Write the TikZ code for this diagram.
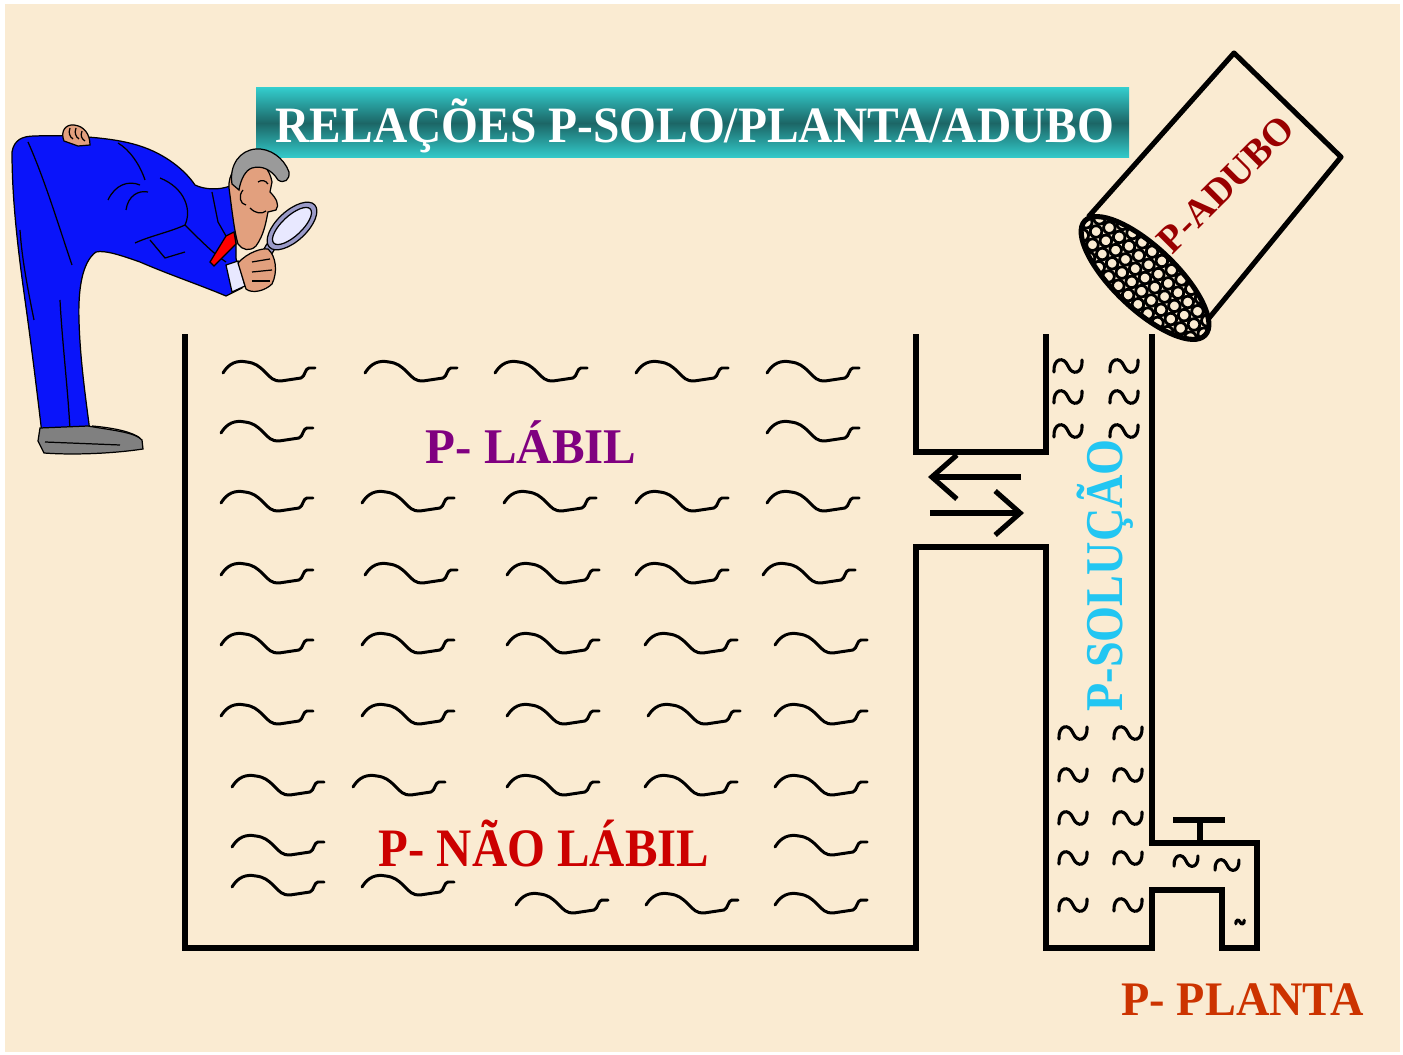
\documentclass[tikz,border=0pt]{standalone}
\usepackage{fontspec}
\setmainfont{Liberation Serif}
\usepackage{graphicx}
\usetikzlibrary{arrows.meta}

\definecolor{paper}{HTML}{FAEBD2}
\definecolor{tealL}{HTML}{33CCCC}
\definecolor{tealD}{HTML}{1C6666}
\definecolor{labilc}{HTML}{800080}
\definecolor{naoc}{HTML}{CC0000}
\definecolor{plantac}{HTML}{CC3300}
\definecolor{solc}{HTML}{22C6F2}
\definecolor{adubc}{HTML}{990000}
\definecolor{suit}{HTML}{0A14FA}
\definecolor{shoe}{HTML}{808080}
\definecolor{skin}{HTML}{E2A07E}
\definecolor{hair}{HTML}{9A9A9A}
\definecolor{lensrim}{HTML}{9A9AC8}
\definecolor{lensglass}{HTML}{E8E8FF}

\tikzset{
  wall/.style={line width=1.45pt, line join=miter, line cap=rect},
  squigline/.style={line width=0.85pt, line cap=round, line join=round},
  curlline/.style={line width=0.9pt, line cap=round},
  flow/.style={line width=1.45pt, -{Straight Barb[length=2.5mm, width=4.4mm, line width=1.45pt]}},
  lbl/.style={inner sep=0pt, anchor=base west, font=\bfseries},
  thin/.style={draw=black, line width=0.35pt},
  wave/.pic={\draw[squigline] (0,0) .. controls (6,-10) and (14,-13) .. (24,-11)
      .. controls (32,-10) and (36,-7) .. (42,-1) .. controls (48,5) and (50,8) .. (58,8)
      -- (78,5) .. controls (82,4) and (82,-5) .. (86,-5) -- (92,-5);},
  curl/.pic={\draw[curlline] (-14,6) .. controls (-15,-8) and (-4,-10) .. (0,0)
      .. controls (4,10) and (15,8) .. (14,-6);}
}

\begin{document}
\begin{tikzpicture}[x=0.01cm, y=-0.01cm]
\useasboundingbox (0,0) rectangle (1403,1055);
\fill[white] (0,0) rectangle (1403,1055);
\fill[paper] (5,4) rectangle (1400,1052);

% title banner
\shade[top color=tealL, bottom color=tealL, middle color=tealD] (256,88) rectangle (1129,158);
\node[lbl, text=white, font=\bfseries\fontsize{14.5}{15}\selectfont] (title) at (275,143)
  {\scalebox{0.93}[1]{RELAÇÕES P-SOLO/PLANTA/ADUBO}};

% soil tank, solution column and tap
\draw[wall] (185,337) -- (185,948) -- (916,948) -- (916,547) -- (1046,547) -- (1046,948)
  -- (1152,948) -- (1152,890) -- (1222,890) -- (1222,948) -- (1257,948) -- (1257,843)
  -- (1152,843) -- (1152,337);
\draw[wall] (916,337) -- (916,452) -- (1046,452) -- (1046,337);
\draw[wall] (1176,820) -- (1222,820);
\draw[wall] (1200,820) -- (1200,843);

% exchange arrows
\coordinate (la) at (1021,477); \coordinate (lb) at (928,477);
\coordinate (ra) at (930,513);  \coordinate (rb) at (1024,513);
\draw[flow] (la) -- (lb);
\draw[flow] (ra) -- (rb);

% phosphate particles in the soil
\foreach \x in {223,365,495,636,767} \pic at (\x,373) {wave};
\foreach \x in {221,767} \pic at (\x,433) {wave};
\foreach \x in {221,362,504,636,767} \pic at (\x,503) {wave};
\foreach \x in {221,365,507,636,763} \pic at (\x,575) {wave};
\foreach \x in {221,362,507,645,775} \pic at (\x,645) {wave};
\foreach \x in {221,362,507,648,775} \pic at (\x,716) {wave};
\foreach \x in {232,353,507,645,775} \pic at (\x,787) {wave};
\foreach \x in {232,775} \pic at (\x,847) {wave};
\foreach \x in {232,362} \pic at (\x,887) {wave};
\foreach \x in {516,646,775} \pic at (\x,905) {wave};

% particles in the solution
\foreach \y in {366,397,431} { \pic at (1068,\y) {curl}; \pic at (1124,\y) {curl}; }
\foreach \y in {733,775,818,858,905} { \pic at (1073,\y) {curl}; \pic at (1128,\y) {curl}; }
\pic[scale=0.85] at (1186,861) {curl};
\pic[scale=0.85] at (1227,865) {curl};
\pic[scale=0.3] at (1240,922) {curl};

% labels
\node[lbl, text=labilc, font=\bfseries\fontsize{14.2}{15}\selectfont] (labil) at (425,463)
  {\scalebox{0.98}[1]{P- LÁBIL}};
\node[lbl, text=naoc, font=\bfseries\fontsize{15.4}{16}\selectfont] (naolabil) at (378,866)
  {\scalebox{0.90}[1]{P- NÃO LÁBIL}};
\node[lbl, text=plantac, font=\bfseries\fontsize{13.7}{14}\selectfont] (planta) at (1121,1015)
  {\scalebox{0.96}[1]{P- PLANTA}};
\node[lbl, text=solc, rotate=90, font=\bfseries\fontsize{15.1}{16}\selectfont] (solucao) at (1122,712)
  {\scalebox{0.87}[1]{P-SOLUÇÃO}};

% fertilizer can
\draw[wall, line join=round] (1090,215) -- (1234,53) -- (1341,157) -- (1205,323);
\begin{scope}[shift={(1145,278)}, rotate=-43.5]
  \fill[paper] (0,0) ellipse [x radius=83, y radius=31];
  \begin{scope}
    \clip (0,0) ellipse [x radius=83, y radius=31];
    \foreach \i in {-6,...,6} \foreach \j in {-3,...,3}
      \draw[line width=0.8pt] (\i*13.5+\j*6.5,\j*12) circle [radius=5.8];
  \end{scope}
  \draw[line width=1.45pt] (0,0) ellipse [x radius=83, y radius=31];
\end{scope}
\node[lbl, text=adubc, rotate=45, font=\bfseries\fontsize{11}{12}\selectfont] (adubo) at (1172,256) {P-ADUBO};

% inspector with magnifying glass
\filldraw[fill=suit, thin]
  (12,152) .. controls (14,140) and (22,136) .. (35,136)
  .. controls (60,135) and (110,136) .. (140,146)
  .. controls (165,154) and (185,170) .. (195,185)
  .. controls (205,190) and (220,190) .. (230,186)
  -- (236,215) -- (236,258) -- (242,288) -- (226,296)
  .. controls (200,285) and (170,275) .. (140,262)
  .. controls (120,255) and (105,250) .. (96,252)
  .. controls (82,262) and (78,290) .. (79,320)
  .. controls (80,360) and (86,400) .. (90,432)
  -- (42,434)
  .. controls (38,400) and (32,350) .. (25,300)
  .. controls (18,250) and (12,200) .. (12,152) -- cycle;
% creases of the suit
\draw[thin] (28,142) .. controls (45,180) and (60,230) .. (72,265);
\draw[thin] (20,230) .. controls (22,260) and (28,290) .. (34,320);
\draw[thin] (60,300) .. controls (62,340) and (68,390) .. (70,430);
\draw[thin] (118,143) .. controls (130,150) and (140,165) .. (145,180);
\draw[thin] (108,200) .. controls (115,185) and (128,180) .. (140,185);
\draw[thin] (126,210) .. controls (128,196) and (138,190) .. (148,192);
\draw[thin] (160,178) .. controls (185,188) and (192,210) .. (185,225)
  .. controls (170,232) and (150,236) .. (135,243);
\draw[thin] (185,225) .. controls (200,240) and (215,255) .. (226,262);
\draw[thin] (212,192) -- (218,222) -- (226,236);
\draw[thin] (150,240) -- (165,258) -- (185,252);
% shoes
\filldraw[fill=shoe, thin] (40,428) -- (88,426) .. controls (110,430) and (135,432) .. (142,440)
  -- (143,449) .. controls (110,454) and (70,455) .. (44,453) -- (38,441) -- cycle;
\draw[thin] (92,426) .. controls (115,428) and (132,432) .. (140,438);
\draw[thin] (45,442) -- (120,445);
% hand on the back
\filldraw[fill=skin, thin] (64,141) .. controls (60,131) and (66,124) .. (74,125)
  .. controls (84,126) and (90,134) .. (90,145) -- (78,146) -- cycle;
\draw[thin] (70,128) .. controls (68,133) and (70,137) .. (73,139);
\draw[thin] (76,128) .. controls (74,133) and (76,137) .. (79,139);
\draw[thin] (82,131) .. controls (80,136) and (82,139) .. (85,141);
% tie and cuff
\filldraw[fill=red, thin] (226,236) -- (234,232) -- (236,244) -- (214,266) -- (210,262) -- cycle;
\filldraw[fill=lensglass, thin] (226,265) -- (238,261) -- (245,286) -- (232,292) -- cycle;
% head
\filldraw[fill=skin, thin] (229,188) .. controls (228,175) and (236,162) .. (250,160)
  .. controls (262,160) and (270,170) .. (272,182) -- (270,192)
  .. controls (276,198) and (280,205) .. (276,210) -- (268,212)
  .. controls (266,222) and (264,235) .. (256,246)
  .. controls (250,252) and (242,250) .. (238,244)
  .. controls (234,230) and (232,210) .. (229,188) -- cycle;
\filldraw[fill=hair, thin] (232,184) .. controls (229,165) and (240,150) .. (256,149)
  .. controls (270,148) and (284,158) .. (289,172)
  .. controls (290,180) and (284,184) .. (278,180)
  .. controls (272,170) and (262,165) .. (252,168)
  .. controls (246,170) and (241,178) .. (239,190) -- cycle;
\draw[thin] (258,182) .. controls (262,179) and (266,181) .. (268,184);
\draw[thin] (250,208) .. controls (256,214) and (262,214) .. (266,211);
\draw[thin] (243,190) .. controls (238,196) and (240,204) .. (246,205);
% magnifying glass
\draw[line width=3pt, black] (250,283) -- (271,246);
\draw[line width=2.2pt, lensrim] (250,283) -- (271,246);
\filldraw[fill=skin, thin] (238,263) .. controls (248,252) and (262,248) .. (268,249)
  .. controls (276,256) and (278,272) .. (272,284)
  .. controls (265,291) and (252,294) .. (246,289) -- cycle;
\draw[thin] (252,262) -- (270,259);
\draw[thin] (252,272) -- (272,270);
\draw[thin] (252,281) -- (270,281);
\begin{scope}[shift={(292,226)}, rotate=43]
  \filldraw[fill=lensrim, thin] (0,0) ellipse [x radius=31, y radius=15];
  \filldraw[fill=lensglass, thin] (0,0) ellipse [x radius=25, y radius=10];
\end{scope}
\end{tikzpicture}
\end{document}
